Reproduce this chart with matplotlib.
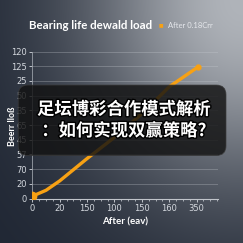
import matplotlib
matplotlib.use("Agg")
import matplotlib.pyplot as plt
import matplotlib.patheffects as pe
from matplotlib.patches import FancyBboxPatch
import numpy as np

# data
xData = [0, 25, 50, 100, 150, 200, 250, 303]
yData = [2, 7, 15, 34, 52, 72, 95, 112]

yTickPos = [0, 12.5, 25, 37.5, 50, 62.5, 75, 87.5, 100, 112.5, 125]
yTickLabels = ["0", "20", "70", "57", "45", "65", "35", "50", "25", "125", "120"]
xTickPos = [0, 50, 100, 150, 200, 250, 300]
xTickLabels = ["0", "20", "150", "100", "150", "160", "350"]

title = "Bearing life dewald load"
legendLabel = "After 0.18Crr"
overlayText = "足坛博彩合作模式解析\n：如何实现双赢策略?"

orange = "#f7a114"
tickColour = "#d4d8de"

fig = plt.figure(figsize=(2.43, 2.43), dpi=100)

# background gradient, dark navy on the left to light grey top right
bg = fig.add_axes([0, 0, 1, 1])
gx, gy = np.meshgrid(np.linspace(0, 1, 200), np.linspace(0, 1, 200))
t = np.clip(np.exp(-((gx - 1.0) ** 2 / 0.45 + (gy - 0.0) ** 2 / 0.6)), 0, 1)
dark = np.array([30, 37, 50]) / 255
light = np.array([176, 180, 186]) / 255
img = dark[None, None, :] * (1 - t[..., None]) + light[None, None, :] * t[..., None]
bg.imshow(img, extent=[0, 1, 0, 1], aspect="auto", origin="upper")
bg.axis("off")

ax = fig.add_axes([0.133, 0.183, 0.764, 0.605])
ax.patch.set_alpha(0)
ax.plot(xData, yData, color=orange, lw=2.4, solid_capstyle="round", zorder=3)
ax.plot(xData[0], yData[0], "o", color=orange, ms=6, zorder=4)
ax.plot(xData[-1], yData[-1], "o", color=orange, ms=3.5, zorder=4)

ax.set_xlim(0, 339)
ax.set_ylim(0, 125)
ax.set_yticks(yTickPos)
ax.set_yticklabels(yTickLabels)
ax.set_xticks(xTickPos)
ax.set_xticklabels(xTickLabels)
ax.set_xticks(np.arange(0, 339, 12.5), minor=True)
ax.tick_params(colors=tickColour, labelsize=6, length=2, width=0.6, pad=2)
ax.tick_params(axis="x", which="minor", colors=tickColour, length=1.5, width=0.5)
ax.grid(axis="y", color="#c8ccd2", alpha=0.35, lw=0.6)
for side in ["top", "right"]:
    ax.spines[side].set_visible(False)
ax.spines["left"].set_color("#9aa0a8")
ax.spines["bottom"].set_color("#c0c4ca")
ax.spines["left"].set_linewidth(0.6)
ax.spines["bottom"].set_linewidth(0.8)

ax.set_xlabel("After (eav)", color="white", fontsize=7, fontweight="bold", family="Lato", labelpad=3)
fig.text(0.05, 0.48, "Beerr lloß", rotation=90, color="white", fontsize=6.5,
         fontweight="bold", family="Lato", ha="center", va="center")

fig.text(0.12, 0.895, title, color="white", fontsize=8.3, fontweight="bold",
         family="Lato", ha="left", va="center")
fig.text(0.663, 0.897, "■", color=orange, fontsize=3.5, ha="center", va="center")
fig.text(0.69, 0.895, legendLabel, color="#e6e8ec", fontsize=5.5, family="Lato",
         ha="left", va="center")

# overlay box with the chinese caption
box = FancyBboxPatch((0.075, 0.36), 0.855, 0.29, boxstyle="round,pad=0,rounding_size=0.04",
                     transform=fig.transFigure, facecolor="#121212", alpha=0.82,
                     edgecolor="#3a3a3a", lw=0.6, zorder=5)
fig.patches.append(box)
fig.text(0.51, 0.505, overlayText, color="white", fontsize=12.5, fontweight="bold",
         family=["Noto Sans CJK SC", "DejaVu Sans"], ha="center", va="center",
         linespacing=1.25, zorder=6,
         path_effects=[pe.withStroke(linewidth=2, foreground="black")])

fig.savefig("out.png", dpi=100)
